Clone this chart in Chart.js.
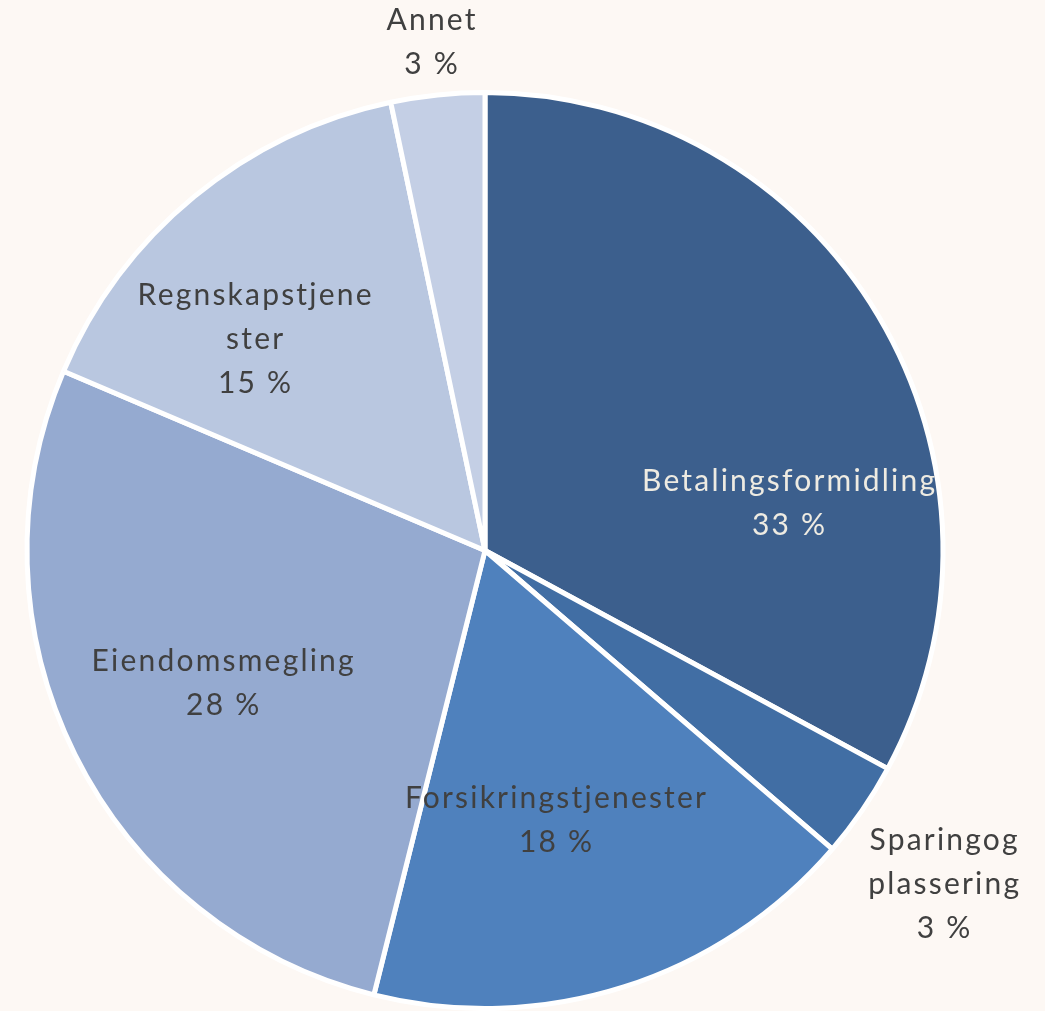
<!DOCTYPE html>
<html>
<head>
<meta charset="utf-8">
<script src="https://cdn.jsdelivr.net/npm/chart.js@4/dist/chart.umd.min.js"></script>
<style>
  html, body { margin: 0; padding: 0; background: #fdf8f4; }
  #wrap { width: 1045px; height: 1011px; position: relative; }
</style>
</head>
<body>
<div id="wrap"><canvas id="chartPie"></canvas></div>
<script>
// data
const categories = ['Betalingsformidling', 'Sparing og plassering', 'Forsikringstjenester', 'Eiendomsmegling', 'Regnskapstjenester', 'Annet'];
const labelLines = [['Betalingsformidling'], ['Sparingog', 'plassering'], ['Forsikringstjenester'], ['Eiendomsmegling'], ['Regnskapstjene', 'ster'], ['Annet']];
const shares = [32.9, 3.4, 17.6, 27.5, 15.3, 3.3];
const colors = ['#3c5f8d', '#416ea4', '#4f81bd', '#95aad0', '#b9c7e0', '#c4cfe5'];
const textColors = ['#eeebe2', '#404040', '#404040', '#404040', '#404040', '#404040'];

// label placement: angle nudge (deg) from slice middle, distance as share of radius
const placement = [
  { da: 22, f: 0.673 },
  { da: 1.4, f: 1.24 },
  { da: 2.8, f: 0.61 },
  { da: -0.5, f: 0.64 },
  { da: -8, f: 0.68 },
  { da: 0, f: 1.115 }
];

const pieLabels = {
  id: 'pieLabels',
  afterDatasetsDraw(chart) {
    const ctx = chart.ctx;
    const meta = chart.getDatasetMeta(0);
    ctx.save();
    ctx.font = '30px Lato';
    ctx.letterSpacing = '2.2px';
    ctx.textAlign = 'center';
    ctx.textBaseline = 'middle';
    meta.data.forEach((arc, i) => {
      const p = arc.getProps(['x', 'y', 'startAngle', 'endAngle', 'outerRadius'], true);
      const mid = (p.startAngle + p.endAngle) / 2 + placement[i].da * Math.PI / 180;
      const cx = p.x + Math.cos(mid) * p.outerRadius * placement[i].f;
      const cy = p.y + Math.sin(mid) * p.outerRadius * placement[i].f;
      const lines = labelLines[i].concat([Math.round(shares[i]) + ' %']);
      const lh = 44;
      const top = cy - (lines.length - 1) * lh / 2;
      ctx.fillStyle = textColors[i];
      lines.forEach((t, k) => ctx.fillText(t, cx, top + k * lh));
    });
    ctx.restore();
  }
};

new Chart(document.getElementById('chartPie'), {
  type: 'pie',
  data: {
    labels: categories,
    datasets: [{
      data: shares,
      backgroundColor: colors,
      borderColor: '#ffffff',
      borderWidth: 5
    }]
  },
  options: {
    responsive: true,
    maintainAspectRatio: false,
    animation: false,
    layout: { padding: { left: 23, right: 98, top: 90, bottom: -3 } },
    plugins: {
      legend: { display: false },
      tooltip: { enabled: false }
    }
  },
  plugins: [pieLabels]
});
</script>
</body>
</html>
